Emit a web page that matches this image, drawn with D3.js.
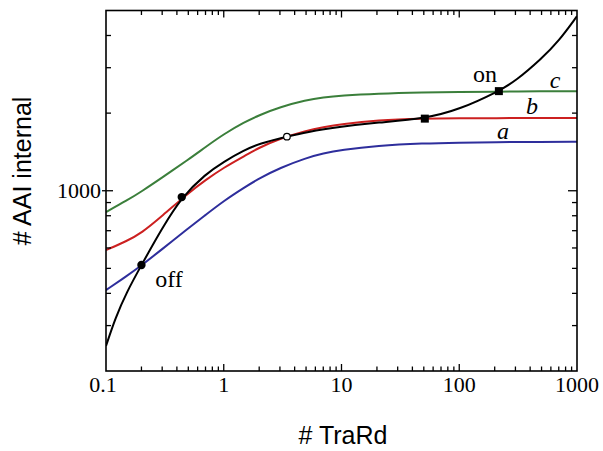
<!DOCTYPE html>
<html>
<head>
<meta charset="utf-8">
<script src="https://cdn.jsdelivr.net/npm/d3@7"></script>
<style>
  html, body { margin: 0; padding: 0; background: #fff; }
  svg { display: block; }
</style>
</head>
<body>
<svg id="chart" width="603" height="451"></svg>
<script>
// ---- data ----
const xGrid  = [0.1, 0.15, 0.2, 0.3, 0.5, 0.7, 1, 1.5, 2, 3, 5, 7, 10, 20, 50, 100, 200, 500, 1000];
const seriesA = [412, 467, 513, 594, 715, 805, 913, 1030, 1117, 1226, 1340, 1396, 1439, 1495, 1528, 1537, 1543, 1547, 1549];
const seriesB = [589, 638, 685, 798, 980, 1100, 1230, 1363, 1470, 1593, 1711, 1765, 1813, 1879, 1904, 1909, 1913, 1913, 1913];
const seriesC = [827, 916, 993, 1125, 1321, 1477, 1658, 1846, 1964, 2110, 2246, 2301, 2338, 2380, 2406, 2417, 2423, 2429, 2434];

const xBlack = [0.1, 0.12, 0.15, 0.2, 0.3, 0.44, 0.7, 1, 1.5, 2, 3.44, 5, 10, 20, 51, 100, 217, 300, 500, 700, 1000];
const seriesBlack = [250, 321, 405, 515, 717, 945, 1160, 1297, 1438, 1523, 1621, 1688, 1773, 1838, 1904, 2063, 2434, 2661, 3252, 3803, 4754];

const filledDots = [[0.2, 515], [0.44, 945]];
const openDots   = [[3.44, 1621]];
const squares    = [[51, 1904], [217, 2434]];

const xTickValues = [0.1, 1, 10, 100, 1000];
const xTickLabels = ["0.1", "1", "10", "100", "1000"];
const yTickValues = [1000];
const yTickLabels = ["1000"];

const xDomain = [0.1, 1000];
const yDomain = [200, 5000];

// ---- layout ----
const L = 106, R = 577, T = 10.5, B = 371;
const svg = d3.select("#chart");

const x = d3.scaleLog().domain(xDomain).range([L, R]);
const y = d3.scaleLog().domain(yDomain).range([B, T]);

const serif = "'Liberation Serif', 'Times New Roman', serif";
const sans  = "'Liberation Sans', Arial, sans-serif";

// curves
const line = d3.line().x(d => x(d[0])).y(d => y(d[1])).curve(d3.curveBasis);
const series = [
  { vals: seriesA, color: "#2e2e9c", xs: xGrid },
  { vals: seriesB, color: "#cc2020", xs: xGrid },
  { vals: seriesC, color: "#3b7f3b", xs: xGrid },
  { vals: seriesBlack, color: "#000000", xs: xBlack }
];
svg.append("clipPath").attr("id", "clip")
  .append("rect").attr("x", L).attr("y", T).attr("width", R - L).attr("height", B - T);
const g = svg.append("g").attr("clip-path", "url(#clip)");
series.forEach(s => {
  g.append("path")
    .attr("d", line(s.xs.map((v, i) => [v, s.vals[i]])))
    .attr("fill", "none")
    .attr("stroke", s.color)
    .attr("stroke-width", 2);
});

// markers
svg.selectAll(".fdot").data(filledDots).enter().append("circle")
  .attr("cx", d => x(d[0])).attr("cy", d => y(d[1])).attr("r", 4.2).attr("fill", "#000");
svg.selectAll(".odot").data(openDots).enter().append("circle")
  .attr("cx", d => x(d[0])).attr("cy", d => y(d[1])).attr("r", 3.3)
  .attr("fill", "#fff").attr("stroke", "#000").attr("stroke-width", 1.2);
svg.selectAll(".sq").data(squares).enter().append("rect")
  .attr("x", d => x(d[0]) - 4).attr("y", d => y(d[1]) - 4)
  .attr("width", 8).attr("height", 8).attr("fill", "#000");

// frame
svg.append("rect").attr("x", L).attr("y", T).attr("width", R - L).attr("height", B - T)
  .attr("fill", "none").attr("stroke", "#000").attr("stroke-width", 1.6);

// ticks
const isMajor = v => Math.abs(Math.log10(v) - Math.round(Math.log10(v))) < 1e-9;
const xt = x.ticks().filter(v => v > xDomain[0] * 1.0001 && v < xDomain[1] * 0.9999);
const yt = y.ticks().filter(v => v > yDomain[0] * 1.0001 && v < yDomain[1] * 0.9999);
const tk = svg.append("g").attr("stroke", "#000").attr("stroke-width", 1.3);
xt.forEach(v => {
  const len = isMajor(v) ? 7 : 4.5;
  tk.append("line").attr("x1", x(v)).attr("x2", x(v)).attr("y1", B).attr("y2", B - len);
  tk.append("line").attr("x1", x(v)).attr("x2", x(v)).attr("y1", T).attr("y2", T + len);
});
yt.forEach(v => {
  const major = isMajor(v);
  const len = major ? 7 : 5;
  tk.append("line").attr("x1", major ? L - 4 : L).attr("x2", L + len).attr("y1", y(v)).attr("y2", y(v));
  tk.append("line").attr("x1", R).attr("x2", R - len - (major ? 2 : 0)).attr("y1", y(v)).attr("y2", y(v));
});

// tick labels
svg.selectAll(".xl").data(xTickValues).enter().append("text")
  .attr("x", (d, i) => x(d) - (i === 0 ? 3 : 0)).attr("y", 391.5)
  .attr("text-anchor", "middle").attr("font-family", serif).attr("font-size", 22)
  .text((d, i) => xTickLabels[i]);
svg.selectAll(".yl").data(yTickValues).enter().append("text")
  .attr("x", L - 5).attr("y", d => y(d) + 7.5)
  .attr("text-anchor", "end").attr("font-family", serif).attr("font-size", 22)
  .text((d, i) => yTickLabels[i]);

// axis titles
svg.append("text").attr("x", 343).attr("y", 444).attr("text-anchor", "middle")
  .attr("font-family", sans).attr("font-size", 25).text("# TraRd");
svg.append("text").attr("transform", "translate(31,171) rotate(-90)").attr("text-anchor", "middle")
  .attr("font-family", sans).attr("font-size", 25).text("# AAI internal");

// annotations
const ann = [
  { t: "off", x: 169, y: 287, it: false },
  { t: "on",  x: 485, y: 82,  it: false },
  { t: "a",   x: 503, y: 139, it: true },
  { t: "b",   x: 532, y: 114, it: true },
  { t: "c",   x: 555, y: 88,  it: true }
];
ann.forEach(a => {
  svg.append("text").attr("x", a.x).attr("y", a.y).attr("text-anchor", "middle")
    .attr("font-family", serif).attr("font-size", 24)
    .attr("font-style", a.it ? "italic" : "normal").text(a.t);
});
</script>
</body>
</html>
